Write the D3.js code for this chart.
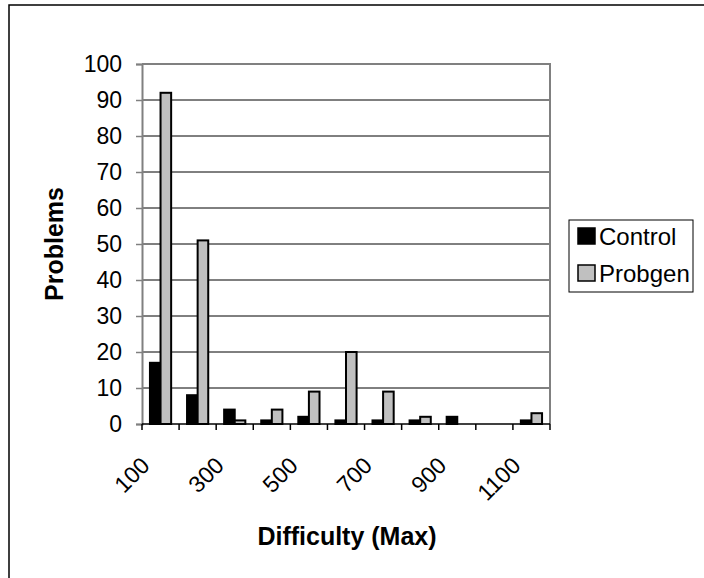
<!DOCTYPE html>
<html>
<head>
<meta charset="utf-8">
<script src="https://cdn.jsdelivr.net/npm/d3@7"></script>
<style>
  body { margin: 0; background: #fff; }
  text { font-family: Arial, "Liberation Sans", sans-serif; }
</style>
</head>
<body>
<div id="chart"></div>
<script>
// data
const categories = ["100", "200", "300", "400", "500", "600", "700", "800", "900", "1000", "1100"];
const seriesNames = ["Control", "Probgen"];
const controlValues = [17, 8, 4, 1, 2, 1, 1, 1, 2, 0, 1];
const probgenValues = [92, 51, 1, 4, 9, 20, 9, 2, 0, 0, 3];
const yTicks = [0, 10, 20, 30, 40, 50, 60, 70, 80, 90, 100];
const colors = { Control: "#000000", Probgen: "#c0c0c0" };

const width = 704, height = 578;
const plotLeft = 142, plotRight = 550, plotTop = 64, plotBottom = 424;

const svg = d3.select("#chart").append("svg")
  .attr("width", width)
  .attr("height", height);

// outer chart frame (runs off the right and bottom edges)
svg.append("rect")
  .attr("x", 9).attr("y", 5)
  .attr("width", 720).attr("height", 600)
  .attr("fill", "none")
  .attr("stroke", "#000")
  .attr("stroke-width", 1.5);

const x = d3.scaleBand().domain(categories).range([plotLeft, plotRight]).padding(0);
const xs = d3.scaleBand().domain(seriesNames).range([0, x.bandwidth()])
  .paddingInner(0).paddingOuter(0.75);
const y = d3.scaleLinear().domain([0, 100]).range([plotBottom, plotTop]);

// gridlines
svg.append("g")
  .selectAll("line")
  .data(yTicks.filter((d) => d > 0 && d < 100))
  .enter()
  .append("line")
  .attr("x1", plotLeft).attr("x2", plotRight)
  .attr("y1", (d) => y(d)).attr("y2", (d) => y(d))
  .attr("stroke", "#000")
  .attr("stroke-width", 1);

// plot area border (top + right), gray
svg.append("path")
  .attr("d", `M${plotLeft},${plotTop}H${plotRight}V${plotBottom}`)
  .attr("fill", "none")
  .attr("stroke", "#808080")
  .attr("stroke-width", 2);

// bars
const rows = categories.map((c, i) => ({
  cat: c,
  values: [
    { name: "Control", value: controlValues[i] },
    { name: "Probgen", value: probgenValues[i] },
  ],
}));

const groups = svg.append("g")
  .selectAll("g")
  .data(rows)
  .enter()
  .append("g")
  .attr("transform", (d) => `translate(${x(d.cat)},0)`);

groups.selectAll("rect")
  .data((d) => d.values.filter((v) => v.value > 0))
  .enter()
  .append("rect")
  .attr("x", (d) => xs(d.name))
  .attr("y", (d) => y(d.value))
  .attr("width", xs.bandwidth())
  .attr("height", (d) => y(0) - y(d.value))
  .attr("fill", (d) => colors[d.name])
  .attr("stroke", "#000")
  .attr("stroke-width", 2);

// y axis
const yAxis = d3.axisLeft(y).tickValues(yTicks).tickSize(6).tickPadding(14);
const yg = svg.append("g")
  .attr("transform", `translate(${plotLeft},0)`)
  .call(yAxis);
yg.select(".domain").attr("stroke", "#808080").attr("stroke-width", 2);
yg.selectAll(".tick line").attr("stroke", "#808080").attr("stroke-width", 1.5);
yg.selectAll("text")
  .style("font-size", "23px")
  .attr("fill", "#000");

// x axis: baseline and ticks at category boundaries
svg.append("line")
  .attr("x1", plotLeft).attr("x2", plotRight)
  .attr("y1", plotBottom).attr("y2", plotBottom)
  .attr("stroke", "#000")
  .attr("stroke-width", 1.5);

const boundaries = categories.map((c) => x(c)).concat([x.range()[1]]);
svg.append("g")
  .selectAll("line")
  .data(boundaries)
  .enter()
  .append("line")
  .attr("x1", (d) => d).attr("x2", (d) => d)
  .attr("y1", plotBottom).attr("y2", plotBottom + 6)
  .attr("stroke", "#000")
  .attr("stroke-width", 1.5);

// x tick labels, every other category, rotated
svg.append("g")
  .selectAll("text")
  .data(categories.filter((c, i) => i % 2 === 0))
  .enter()
  .append("text")
  .attr("transform", (d) => `translate(${x(d) + x.bandwidth() / 2 - 9.5},${plotBottom + 43}) rotate(-45)`)
  .attr("text-anchor", "end")
  .style("font-size", "23px")
  .text((d) => d);

// axis titles
svg.append("text")
  .attr("transform", `translate(63,244) rotate(-90)`)
  .attr("text-anchor", "middle")
  .style("font-size", "25px")
  .style("font-weight", "bold")
  .text("Problems");

svg.append("text")
  .attr("x", 347)
  .attr("y", 545)
  .attr("text-anchor", "middle")
  .style("font-size", "25px")
  .style("font-weight", "bold")
  .text("Difficulty (Max)");

// legend
const legend = svg.append("g");
legend.append("rect")
  .attr("x", 569).attr("y", 220)
  .attr("width", 124).attr("height", 72)
  .attr("fill", "#fff")
  .attr("stroke", "#000")
  .attr("stroke-width", 1);

const items = legend.selectAll("g.item")
  .data(seriesNames)
  .enter()
  .append("g")
  .attr("class", "item")
  .attr("transform", (d, i) => `translate(578,${236 + i * 37})`);

items.append("rect")
  .attr("x", 0).attr("y", -8)
  .attr("width", 17).attr("height", 16)
  .attr("fill", (d) => colors[d])
  .attr("stroke", "#000")
  .attr("stroke-width", 1.5);

items.append("text")
  .attr("x", 21)
  .attr("dy", "0.36em")
  .style("font-size", "24px")
  .text((d) => d);
</script>
</body>
</html>
